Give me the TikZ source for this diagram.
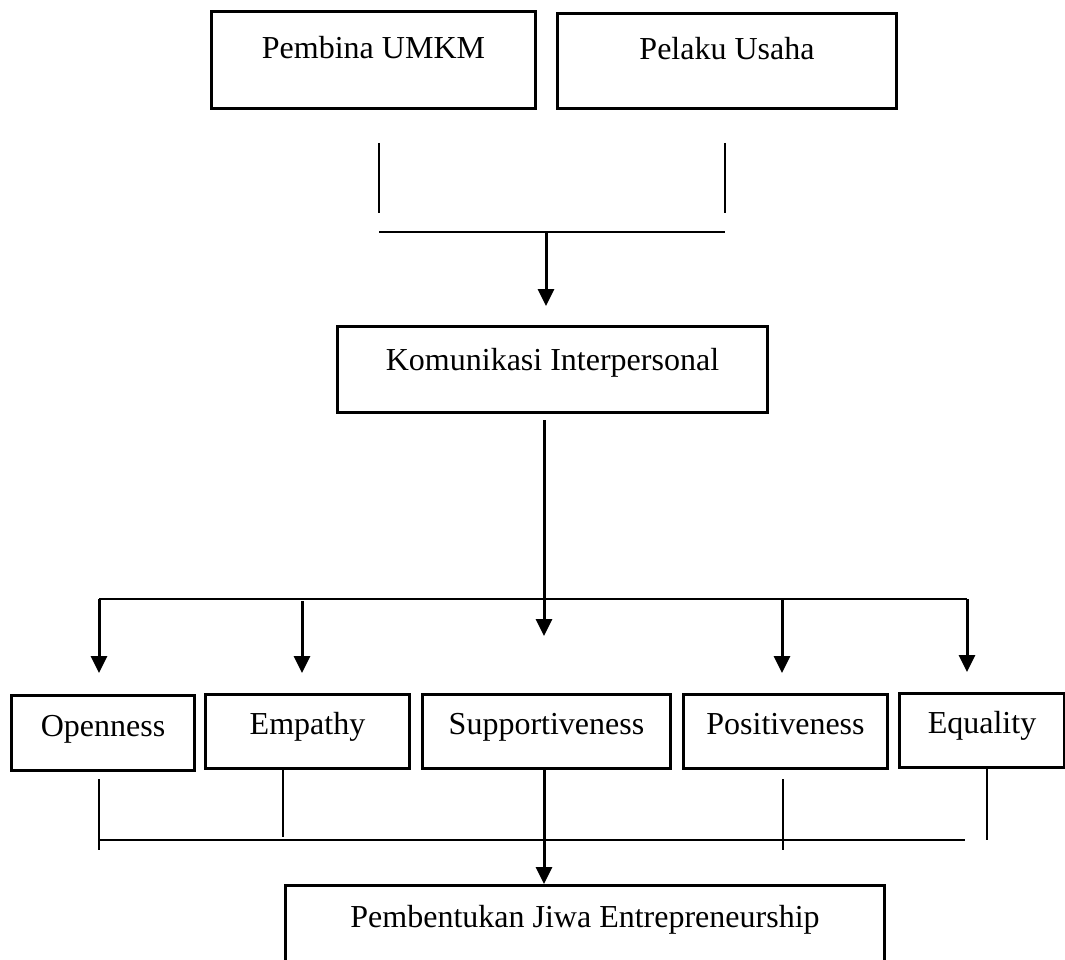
\documentclass[tikz,border=0pt]{standalone}
\usepackage{fontspec}
\setmainfont{Liberation Serif}
\usetikzlibrary{arrows.meta,calc}
\begin{document}
\begin{tikzpicture}[x=1pt,y=-1pt,
  box/.style={draw=black,line width=3pt,inner xsep=0pt,inner ysep=0pt,anchor=north west,font=\fontsize{32}{38}\selectfont,minimum height=0pt},
  thin/.style={draw=black,line width=1.3pt},
  arr/.style={draw=black,line width=3pt,-{Triangle[length=17pt,width=16pt]}}]
\clip (0,0) rectangle (1065,960);
% boxes
\node[box,minimum width=324pt,text height=47pt,text depth=50pt] (pembina) at (210,10) {Pembina UMKM};
\node[box,minimum width=339pt,text height=46pt,text depth=49pt] (pelaku) at (556,12) {Pelaku Usaha};
\node[box,minimum width=430pt,text height=44pt,text depth=42pt] (komunikasi) at (336,325) {Komunikasi Interpersonal};
\node[box,minimum width=183pt,text height=41pt,text depth=34pt] (openness) at (10,694) {Openness};
\node[box,minimum width=204pt,text height=40pt,text depth=34pt] (empathy) at (204,693) {Empathy};
\node[box,minimum width=248pt,text height=40pt,text depth=34pt] (support) at (421,693) {Supportiveness};
\node[box,minimum width=204pt,text height=40pt,text depth=34pt] (positive) at (682,693) {Positiveness};
\node[box,minimum width=165pt,text height=40pt,text depth=34pt] (equality) at (898,692) {Equality};
\node[box,minimum width=599pt,text height=42pt,text depth=50pt] (pembentukan) at (284,884) {Pembentukan Jiwa Entrepreneurship};
% top split
\coordinate (l1t) at (379,143); \coordinate (l1b) at (379,213);
\coordinate (l2t) at (725,143); \coordinate (l2b) at (725,213);
\coordinate (h1a) at (379,232); \coordinate (h1b) at (725,232);
\coordinate (a1s) at (546,232); \coordinate (a1e) at (546,306);
\draw[thin] (l1t) -- (l1b);
\draw[thin] (l2t) -- (l2b);
\draw[thin] (h1a) -- (h1b);
\draw[arr] (a1s) -- (a1e);
% middle distribution
\coordinate (a2s) at (544,420); \coordinate (a2e) at (544,636);
\draw[arr] (a2s) -- (a2e);
\coordinate (h2a) at (99,599); \coordinate (h2b) at (967,599);
\draw[thin] (h2a) -- (h2b);
\coordinate (o1) at (99,599); \coordinate (o2) at (99,673);
\coordinate (e1) at (302,601); \coordinate (e2) at (302,673);
\coordinate (p1) at (782,599); \coordinate (p2) at (782,673);
\coordinate (q1) at (967,599); \coordinate (q2) at (967,672);
\draw[arr] (o1) -- (o2);
\draw[arr] (e1) -- (e2);
\draw[arr] (p1) -- (p2);
\draw[arr] (q1) -- (q2);
% bottom collection
\coordinate (ob1) at (99,779); \coordinate (ob2) at (99,850);
\coordinate (eb1) at (283,767); \coordinate (eb2) at (283,837);
\coordinate (pb1) at (783,779); \coordinate (pb2) at (783,850);
\coordinate (qb1) at (987,769); \coordinate (qb2) at (987,840);
\draw[thin] (ob1) -- (ob2);
\draw[thin] (eb1) -- (eb2);
\draw[thin] (pb1) -- (pb2);
\draw[thin] (qb1) -- (qb2);
\coordinate (h3a) at (99,840); \coordinate (h3b) at (965,840);
\draw[thin] (h3a) -- (h3b);
\draw[arr] (support.south -| a2s) -- (a2s |- pembentukan.north);
\end{tikzpicture}
\end{document}
